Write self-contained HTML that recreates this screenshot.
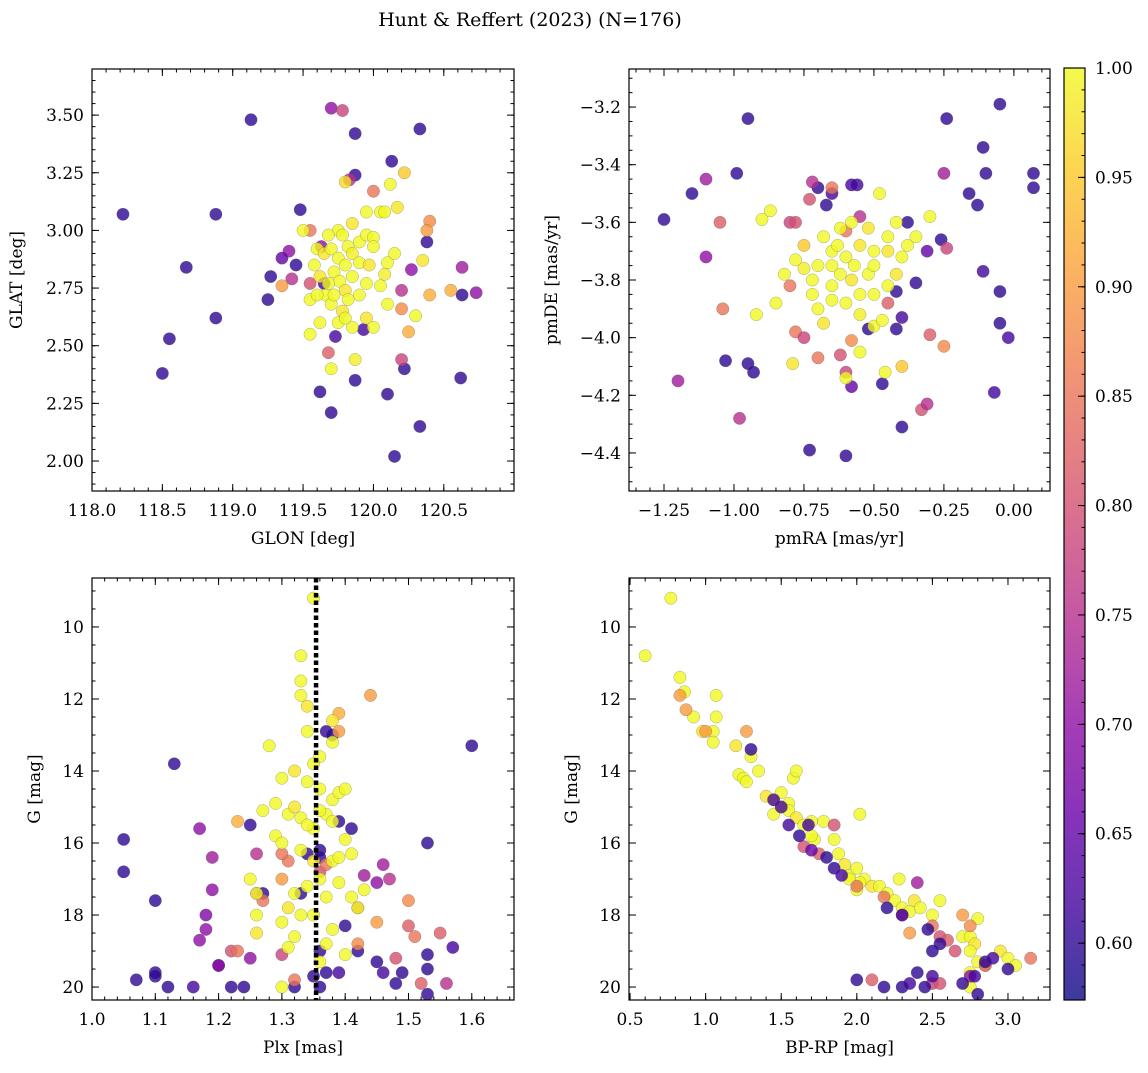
<!DOCTYPE html>
<html><head><meta charset="utf-8"><style>
body{margin:0;background:#fff}
svg text{font-family:"DejaVu Serif","Liberation Serif",serif;fill:#000}
</style></head><body>
<svg id="fig" width="1148" height="1068" viewBox="0 0 1148 1068" xmlns="http://www.w3.org/2000/svg">
<text x="530" y="26" font-size="19" text-anchor="middle">Hunt &amp; Reffert (2023) (N=176)</text>
</svg>
<script>
// ---- Panel 1 data: GLON / GLAT / membership probability
const p1Glon=[118.22,118.5,118.55,118.67,118.88,118.88,119.13,119.25,119.27,119.48,119.45,119.62,119.7,119.87,119.87,119.87,120.1,120.15,120.13,120.33,120.38,120.33,120.62,120.63,120.22,119.93,119.65,119.73,
119.7,119.78,119.83,120.0,120.27,120.63,120.73,120.2,120.2,119.68,119.4,119.35,119.42,119.55,119.63,120.4,120.38,120.55,120.4,120.25,120.22,119.55,119.35,120.2,
119.5,119.8,119.82,119.75,119.85,119.95,120.05,120.12,120.17,120.08,119.68,119.6,119.65,119.7,119.75,119.8,119.85,119.9,119.95,120.0,119.72,119.76,119.8,119.85,119.9,119.58,119.62,119.66,119.55,119.6,119.7,119.78,119.82,119.9,119.95,120.05,120.08,120.1,120.15,120.35,120.3,119.95,119.85,119.75,119.62,119.55,119.7,119.87,120.0,120.1,119.97,120.0,119.78,119.68,119.72,119.8];
const p1Glat=[3.07,2.38,2.53,2.84,3.07,2.62,3.48,2.70,2.80,3.09,2.85,2.30,2.21,3.42,3.24,2.35,2.29,2.02,3.30,3.44,2.95,2.15,2.36,2.72,2.40,2.57,2.77,2.54,
3.53,3.52,3.22,3.17,2.83,2.84,2.73,2.74,2.44,2.47,2.91,2.88,2.79,2.77,2.93,3.04,3.00,2.74,2.72,2.56,3.25,3.0,2.76,2.66,
3.0,3.21,2.93,3.0,3.03,3.08,3.08,3.2,3.1,3.08,2.98,2.92,2.9,2.92,2.88,2.85,2.9,2.95,2.98,2.97,2.82,2.78,2.74,2.8,2.86,2.85,2.8,2.72,2.7,2.72,2.68,2.65,2.7,2.72,2.77,2.76,2.81,2.86,2.9,2.87,2.63,2.62,2.58,2.6,2.6,2.55,2.4,2.44,2.58,2.68,2.85,2.93,2.98,2.77,2.72,2.62];
const p1Prob=[0.6,0.6,0.6,0.6,0.6,0.6,0.6,0.6,0.6,0.6,0.6,0.6,0.6,0.6,0.6,0.6,0.6,0.6,0.6,0.6,0.6,0.6,0.6,0.6,0.6,0.62,0.62,0.62,
0.7,0.78,0.75,0.85,0.7,0.72,0.7,0.75,0.78,0.82,0.7,0.65,0.75,0.8,0.7,0.88,0.9,0.92,0.92,0.92,0.95,0.85,0.9,0.88,
1,0.97,1,1,0.98,1,1,1,0.98,1,1,1,0.98,1,1,1,0.99,1,1,1,1,1,0.98,1,1,1,0.98,1,1,1,1,0.98,1,1,1,1,0.99,1,1,0.98,1,0.98,1,1,1,1,1,0.99,1,1,0.98,1,1,1,1,1];
// ---- Panel 2 data: pmRA / pmDE
const p2Pmra=[-1.25,-1.15,-0.99,-0.95,-1.03,-0.95,-0.93,-0.73,-0.6,-0.47,-0.4,-0.35,-0.24,-0.16,-0.13,-0.11,-0.1,-0.05,0.07,0.07,-0.05,-0.05,-0.02,-0.07,-0.11,-0.26,-0.38,-0.42,-0.42,-0.4,-0.56,-0.58,-0.65,-0.67,-0.7,-0.52,-0.58,-0.31,
-1.1,-1.1,-1.05,-1.04,-1.2,-0.98,-0.8,-0.78,-0.72,-0.73,-0.65,-0.78,-0.75,-0.7,-0.62,-0.58,-0.6,-0.55,-0.45,-0.33,-0.31,-0.3,-0.25,-0.25,-0.24,-0.4,-0.6,-0.8,-0.75,
-0.9,-0.87,-0.92,-0.79,-0.82,-0.85,-0.7,-0.68,-0.72,-0.65,-0.6,-0.55,-0.5,-0.47,-0.45,-0.42,-0.4,-0.45,-0.5,-0.55,-0.6,-0.65,-0.7,-0.75,-0.68,-0.62,-0.58,-0.52,-0.48,-0.42,-0.38,-0.3,-0.35,-0.62,-0.58,-0.55,-0.5,-0.52,-0.6,-0.55,-0.46,-0.78,-0.72,-0.65,-0.5,-0.45,-0.65,-0.57,-0.63];
const p2Pmde=[-3.59,-3.5,-3.43,-3.24,-4.08,-4.09,-4.12,-4.39,-4.41,-4.16,-4.31,-3.81,-3.24,-3.5,-3.54,-3.34,-3.43,-3.19,-3.43,-3.48,-3.84,-3.95,-4.0,-4.19,-3.77,-3.66,-3.6,-3.84,-3.97,-3.93,-3.47,-3.47,-3.5,-3.54,-3.48,-3.97,-4.17,-3.7,
-3.45,-3.72,-3.6,-3.9,-4.15,-4.28,-3.6,-3.6,-3.46,-3.52,-3.48,-3.98,-4.0,-4.07,-4.06,-4.01,-4.12,-3.58,-3.88,-4.25,-4.23,-3.99,-4.03,-3.43,-3.69,-4.1,-3.63,-3.82,-3.68,
-3.59,-3.56,-3.92,-4.09,-3.78,-3.88,-3.9,-3.95,-3.85,-3.82,-3.88,-3.92,-3.96,-3.94,-3.82,-3.78,-3.72,-3.65,-3.7,-3.68,-3.72,-3.7,-3.75,-3.76,-3.65,-3.62,-3.6,-3.62,-3.5,-3.6,-3.68,-3.58,-3.65,-3.78,-3.8,-3.85,-3.85,-3.78,-4.14,-4.05,-4.12,-3.73,-3.8,-3.87,-3.75,-3.7,-3.75,-3.75,-3.68];
const p2Prob=[0.6,0.6,0.6,0.6,0.6,0.6,0.6,0.6,0.6,0.6,0.6,0.6,0.6,0.6,0.6,0.6,0.6,0.6,0.6,0.6,0.6,0.6,0.62,0.62,0.62,0.6,0.6,0.6,0.6,0.62,0.62,0.62,0.62,0.6,0.6,0.6,0.65,0.65,
0.72,0.7,0.82,0.85,0.72,0.75,0.78,0.8,0.75,0.8,0.85,0.85,0.78,0.85,0.8,0.88,0.78,0.75,0.82,0.8,0.75,0.82,0.88,0.72,0.78,0.95,0.85,0.85,0.95,
1,1,1,0.98,1,1,1,0.98,1,1,1,0.99,1,1,1,0.98,1,1,1,0.98,1,1,1,0.99,1,1,1,0.98,1,1,1,1,1,1,0.98,1,1,1,1,1,1,1,1,1,1,0.98,1,1,1,1,1,1,1,1,1,1];
// ---- Panel 3 data: Plx / G
const p3Plx=[1.05,1.05,1.1,1.13,1.07,1.1,1.1,1.12,1.16,1.22,1.24,1.25,1.27,1.33,1.34,1.36,1.37,1.38,1.36,1.36,1.35,1.37,1.39,1.4,1.42,1.45,1.46,1.48,1.49,1.53,1.53,1.53,1.53,1.57,1.6,1.39,1.41,1.32,1.36,1.2,
1.17,1.18,1.18,1.19,1.19,1.17,1.2,1.22,1.23,1.25,1.26,1.26,1.27,1.3,1.32,1.31,1.3,1.43,1.45,1.46,1.47,1.48,1.5,1.5,1.51,1.52,1.55,1.56,1.45,1.44,1.39,1.39,1.42,1.23,1.36,1.37,1.42,1.3,
1.35,1.33,1.33,1.33,1.34,1.34,1.36,1.35,1.28,1.3,1.32,1.34,1.36,1.38,1.39,1.4,1.38,1.38,1.27,1.29,1.31,1.32,1.33,1.35,1.37,1.38,1.36,1.34,1.29,1.3,1.33,1.35,1.38,1.39,1.36,1.34,1.32,1.31,1.3,1.33,1.32,1.31,1.26,1.26,1.26,1.25,1.37,1.39,1.41,1.42,1.43,1.4,1.36,1.3,1.41,1.4,1.38,1.35,1.37];
const p3G=[15.9,16.8,17.6,13.8,19.8,19.6,19.7,20.0,20.0,20.0,20.0,15.5,17.4,17.4,16.3,16.2,12.9,13.0,16.4,19.0,19.7,19.6,19.6,18.3,19.0,19.3,19.6,19.9,19.6,16.0,19.1,19.5,20.2,18.9,13.3,15.4,15.6,20.0,20.0,19.4,
15.6,18.0,18.4,17.3,16.4,18.7,19.4,19.0,19.0,19.2,17.4,16.3,17.6,19.1,19.8,16.5,16.3,16.9,17.1,16.6,17.0,19.2,18.3,17.6,18.6,19.9,18.5,19.9,18.2,11.9,12.4,12.9,18.8,15.4,16.8,16.6,17.8,17.0,
9.2,10.8,11.5,11.9,12.2,12.9,13.6,13.8,13.3,14.2,14.0,14.3,14.5,14.8,14.6,14.5,12.6,13.2,15.1,14.9,15.2,15.0,15.3,15.6,15.2,15.4,15.1,15.5,15.8,16.0,16.2,16.5,16.5,16.4,17.0,17.2,17.4,17.8,18.2,18.0,18.6,18.9,17.4,18.0,18.5,17.0,17.5,17.1,17.5,17.8,17.3,19.1,19.3,20.0,16.3,15.9,18.4,18.0,18.8];
const p3Prob=[0.6,0.6,0.6,0.6,0.6,0.6,0.6,0.6,0.62,0.6,0.6,0.6,0.6,0.6,0.6,0.6,0.6,0.6,0.6,0.6,0.6,0.6,0.62,0.6,0.6,0.6,0.62,0.6,0.6,0.6,0.6,0.6,0.6,0.62,0.6,0.6,0.6,0.6,0.6,0.62,
0.7,0.68,0.7,0.7,0.72,0.7,0.7,0.8,0.85,0.7,0.78,0.75,0.85,0.78,0.85,0.85,0.85,0.72,0.7,0.72,0.75,0.8,0.82,0.88,0.85,0.82,0.82,0.75,0.9,0.9,0.92,0.9,0.88,0.92,0.8,0.85,0.8,0.9,
1,1,1,1,0.98,1,1,1,1,1,0.98,1,1,1,1,1,0.98,1,1,1,1,0.98,1,1,1,1,1,1,1,1,1,0.98,1,1,1,1,1,0.98,1,1,1,1,1,1,0.98,1,1,1,1,1,1,1,1,1,1,1,1,1,1];
// ---- Panel 4 data: BP-RP / G
const p4Bprp=[0.77,0.6,0.83,0.86,0.92,0.98,1.05,1.07,1.07,1.05,1.2,1.22,1.25,1.27,1.3,1.35,1.4,1.45,1.45,1.5,1.55,1.58,1.6,1.55,1.6,1.65,1.7,1.72,1.78,1.85,1.88,1.92,1.95,2.0,2.02,2.0,2.05,2.1,2.15,2.2,2.25,2.28,2.3,2.35,2.38,2.42,2.5,2.55,2.7,2.75,2.78,2.8,2.75,2.8,2.85,2.95,3.0,3.05,2.75,2.75,2.02,1.7,1.5,1.95,
0.83,0.87,1.0,1.27,1.85,1.65,1.75,2.18,2.35,2.5,2.55,2.6,2.65,2.7,2.75,2.85,3.15,2.1,2.5,2.55,2.4,2.3,2.75,2.0,
1.3,1.5,1.55,1.62,1.68,1.8,1.85,1.9,2.0,2.18,2.3,2.35,2.4,2.45,2.5,2.5,2.55,2.7,2.78,2.8,2.85,2.9,3.0,2.3,2.2,1.7,1.45,2.47];
const p4G=[9.2,10.8,11.4,11.8,12.5,12.9,12.9,12.5,11.9,13.2,13.3,14.1,14.2,14.3,13.6,14.0,14.7,14.8,15.2,14.6,14.9,14.2,14.0,15.1,15.3,15.5,15.4,15.9,15.4,15.9,16.3,16.6,16.9,16.7,15.2,17.3,17.0,17.2,17.2,17.4,17.6,17.0,17.8,17.9,17.6,17.8,18.0,17.6,18.6,18.6,18.8,18.1,19.0,19.3,19.4,19.0,19.2,19.4,19.6,20.0,17.1,15.8,15.0,17.0,
11.9,12.3,12.9,12.9,15.5,16.1,16.3,17.5,18.5,18.3,18.6,18.7,19.0,18.0,18.3,19.4,19.2,19.8,19.9,19.9,17.1,18.0,19.7,17.2,
13.4,15.0,15.5,15.8,15.5,16.4,16.7,16.9,19.8,20.0,20.0,19.9,19.6,20.0,19.7,19.0,18.8,19.9,19.7,20.2,19.3,19.2,19.5,18.0,17.8,16.2,14.8,18.4];
const p4Prob=[1,1,1,1,1,0.98,1,1,1,1,0.98,1,1,1,1,1,0.98,1,1,1,1,1,1,1,0.98,1,1,1,1,1,1,0.98,1,1,1,1,1,0.98,1,1,1,1,1,1,0.98,1,1,1,1,1,0.98,1,1,1,1,0.98,1,1,1,1,1,1,1,1,
0.9,0.9,0.9,0.9,0.8,0.8,0.82,0.85,0.9,0.85,0.8,0.82,0.8,0.9,0.88,0.82,0.85,0.82,0.78,0.8,0.72,0.8,0.7,0.85,
0.6,0.62,0.62,0.6,0.62,0.6,0.6,0.62,0.6,0.6,0.6,0.62,0.6,0.6,0.62,0.6,0.6,0.6,0.62,0.6,0.6,0.62,0.6,0.62,0.6,0.65,0.62,0.6];
// ---- colorbar ticks
const cbTicks=[0.60,0.65,0.70,0.75,0.80,0.85,0.90,0.95,1.00];
const vmin=0.574, vmax=1.0;
const plxLine=1.354;

const NS='http://www.w3.org/2000/svg';
const svg=document.getElementById('fig');
function mk(tag,attrs,parent){const e=document.createElementNS(NS,tag);for(const k in attrs)e.setAttribute(k,attrs[k]);(parent||svg).appendChild(e);return e;}
const stops=['#0d0887','#41049d','#6a00a8','#8f0da4','#b12a90','#cc4778','#e16462','#f2844b','#fca636','#fcce25','#f0f921'];
function hex(h){return [1,3,5].map(i=>parseInt(h.substr(i,2),16));}
function cmap(v){if(typeof v!=='number'||isNaN(v))v=1;let t=(v-vmin)/(vmax-vmin);t=Math.max(0,Math.min(1,t));const f=t*10,i=Math.min(9,Math.floor(f)),r=f-i;const a=hex(stops[i]),b=hex(stops[i+1]);return 'rgb('+a.map((c,k)=>Math.round(c+(b[k]-c)*r)).join(',')+')';}
const FS=17;
function panel(cfg){
  const {name,L,R,T,B,x0,x1,y0,y1,xMaj,xMin,yMaj,yMin,xFmt,yFmt,xs,ys,ps,xlab,ylab,ylabX}=cfg;
  const sx=v=>L+(v-x0)/(x1-x0)*(R-L);
  const sy=v=>B-(v-y0)/(y1-y0)*(B-T);
  const g=mk('g',{});
  
  
  const clip=mk('clipPath',{id:name+'-clip'},g);
  mk('rect',{x:L,y:T,width:R-L,height:B-T},clip);
  const pts=mk('g',{'clip-path':'url(#'+name+'-clip)'},g);
  const n=Math.min(xs.length,ys.length);
  for(let i=0;i<n;i++){
    const c=mk('circle',{cx:sx(xs[i]),cy:sy(ys[i]),r:6.2,fill:cmap(ps[i]),'fill-opacity':0.8,stroke:'#555','stroke-width':0.4,'stroke-opacity':0.6},pts);
    
    
  }
  if(cfg.vline!==undefined){
    const l=mk('line',{x1:sx(cfg.vline),x2:sx(cfg.vline),y1:T,y2:B,stroke:'#000','stroke-width':4.5,'stroke-dasharray':'4.5,3'},g);
    
    
  }
  mk('rect',{x:L,y:T,width:R-L,height:B-T,fill:'none',stroke:'#000','stroke-width':1.2},g);
  const eps=1e-9;
  function ticksX(step,len,lab){for(let k=Math.ceil((Math.min(x0,x1)-eps)/step);k*step<=Math.max(x0,x1)+eps;k++){const v=k*step;const x=sx(v);if(x<L-0.5||x>R+0.5)continue;mk('line',{x1:x,x2:x,y1:B,y2:B-len,stroke:'#000','stroke-width':1},g);mk('line',{x1:x,x2:x,y1:T,y2:T+len,stroke:'#000','stroke-width':1},g);if(lab){const t=mk('text',{x:x,y:B+25,'font-size':FS,'text-anchor':'middle'},g);t.textContent=xFmt(v);}}}
  function ticksY(step,len,lab){for(let k=Math.ceil((Math.min(y0,y1)-eps)/step);k*step<=Math.max(y0,y1)+eps;k++){const v=k*step;const y=sy(v);if(y<T-0.5||y>B+0.5)continue;mk('line',{x1:L,x2:L+len,y1:y,y2:y,stroke:'#000','stroke-width':1},g);mk('line',{x1:R,x2:R-len,y1:y,y2:y,stroke:'#000','stroke-width':1},g);if(lab){const t=mk('text',{x:L-8,y:y+6,'font-size':FS,'text-anchor':'end'},g);t.textContent=yFmt(v);}}}
  ticksX(xMin,3.5,false);ticksX(xMaj,7,true);ticksY(yMin,3.5,false);ticksY(yMaj,7,true);
  const xl=mk('text',{x:(L+R)/2,y:B+53,'font-size':FS,'text-anchor':'middle'},g);xl.textContent=xlab;
  
  const yl=mk('text',{x:ylabX,y:(T+B)/2,'font-size':FS,'text-anchor':'middle',transform:'rotate(-90 '+ylabX+' '+(T+B)/2+')'},g);yl.textContent=ylab;
  
}
const f1=v=>v.toFixed(1),f2=v=>v.toFixed(2),m2=v=>(v<-1e-9?'\u2212':'')+Math.abs(v).toFixed(2),m1=v=>(v<0?'\u2212':'')+Math.abs(v).toFixed(1),i0=v=>Math.round(v)+'';
panel({name:'glon-glat-panel',L:92,R:514,T:69,B:491,x0:118.0,x1:120.999,y0:1.87,y1:3.70,xMaj:0.5,xMin:0.1,yMaj:0.25,yMin:0.05,xFmt:f1,yFmt:f2,xs:p1Glon,ys:p1Glat,ps:p1Prob,xlab:'GLON [deg]',ylab:'GLAT [deg]',ylabX:22});
panel({name:'proper-motion-panel',L:629,R:1050,T:69,B:491,x0:-1.375,x1:0.129,y0:-4.532,y1:-3.068,xMaj:0.25,xMin:0.05,yMaj:0.2,yMin:0.05,xFmt:m2,yFmt:m1,xs:p2Pmra,ys:p2Pmde,ps:p2Prob,xlab:'pmRA [mas/yr]',ylab:'pmDE [mas/yr]',ylabX:557});
panel({name:'parallax-mag-panel',L:92,R:514,T:578,B:1000,x0:1.0,x1:1.6667,y0:20.36,y1:8.64,xMaj:0.1,xMin:0.02,yMaj:2,yMin:0.5,xFmt:f1,yFmt:i0,xs:p3Plx,ys:p3G,ps:p3Prob,xlab:'Plx [mas]',ylab:'G [mag]',ylabX:40,vline:plxLine});
panel({name:'cmd-panel',L:629,R:1050,T:578,B:1000,x0:0.493,x1:3.278,y0:20.36,y1:8.64,xMaj:0.5,xMin:0.1,yMaj:2,yMin:0.5,xFmt:f1,yFmt:i0,xs:p4Bprp,ys:p4G,ps:p4Prob,xlab:'BP-RP [mag]',ylab:'G [mag]',ylabX:577});

// colorbar
const cb=mk('g',{});


const CL=1064,CR=1085,CT=68,CB=1000;
const cy=v=>CB-(v-vmin)/(vmax-vmin)*(CB-CT);
const defs=mk('defs',{},cb);
const lg=mk('linearGradient',{id:'cbg',x1:0,y1:1,x2:0,y2:0},defs);
for(let i=0;i<=20;i++){mk('stop',{offset:i/20,'stop-color':cmap(vmin+(vmax-vmin)*i/20),'stop-opacity':0.8},lg);}
mk('rect',{x:CL,y:CT,width:CR-CL,height:CB-CT,fill:'url(#cbg)',stroke:'#000','stroke-width':1.2},cb);
for(let k=58;k<=100;k++){const y=cy(k/100);mk('line',{x1:CR,x2:CR-3.5,y1:y,y2:y,stroke:'#000','stroke-width':1},cb);}
for(let i=0;i<cbTicks.length;i++){const y=cy(cbTicks[i]);mk('line',{x1:CR,x2:CR-7,y1:y,y2:y,stroke:'#000','stroke-width':1},cb);const t=mk('text',{x:CR+10,y:y+6,'font-size':FS,'text-anchor':'start'},cb);t.textContent=cbTicks[i].toFixed(2);}
</script>
</body></html>
